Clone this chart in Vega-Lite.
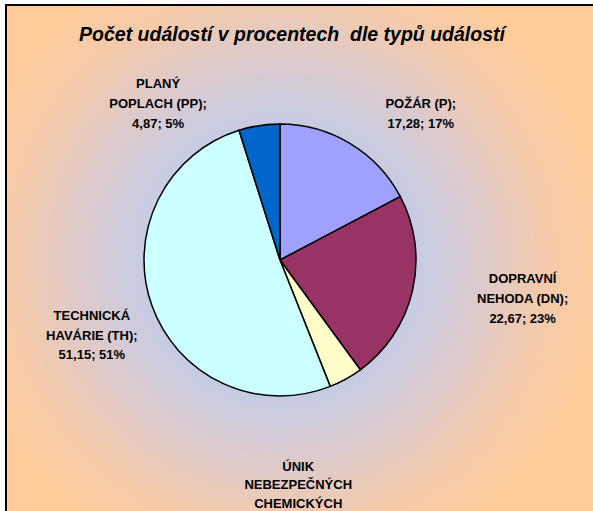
{
  "$schema": "https://vega.github.io/schema/vega-lite/v6.json",
  "autosize": {"type": "none"},
  "width": 588,
  "height": 508,
  "padding": {"left": 6, "top": 5, "right": 0, "bottom": 0},
  "background": "white",
  "view": {
    "fill": {"gradient": "radial", "x1": 0.466, "y1": 0.502, "r1": 0, "x2": 0.466, "y2": 0.502, "r2": 0.56,
      "stops": [
        {"offset": 0, "color": "#B2C8F2"},
        {"offset": 0.44, "color": "#C8CCE2"},
        {"offset": 0.62, "color": "#DECACB"},
        {"offset": 0.8, "color": "#F3CAAC"},
        {"offset": 1, "color": "#FFCC99"}
      ]},
    "stroke": "black",
    "strokeWidth": 2
  },
  "config": {
    "text": {"font": "Liberation Sans"}
  },
  "title": {
    "text": "Počet událostí v procentech\u00a0 dle typů událostí",
    "font": "Liberation Sans",
    "fontSize": 19.5,
    "fontWeight": "bold",
    "fontStyle": "italic",
    "color": "black",
    "anchor": "middle",
    "frame": "group",
    "offset": -40,
    "dx": -8
  },
  "data": {
    "values": [
      {"i": 1, "typ": "Požár (P)", "hodnota": 17.28, "label": "POŽÁR (P);\n17,28; 17%"},
      {"i": 2, "typ": "Dopravní nehoda (DN)", "hodnota": 22.67, "label": "DOPRAVNÍ\nNEHODA (DN);\n22,67; 23%"},
      {"i": 3, "typ": "Únik nebezpečných chemických látek", "hodnota": 4.03, "label": "ÚNIK\nNEBEZPEČNÝCH\nCHEMICKÝCH"},
      {"i": 4, "typ": "Technická havárie (TH)", "hodnota": 51.15, "label": "TECHNICKÁ\nHAVÁRIE (TH);\n51,15; 51%"},
      {"i": 5, "typ": "Planý poplach (PP)", "hodnota": 4.87, "label": "PLANÝ\nPOPLACH (PP);\n4,87; 5%"}
    ]
  },
  "encoding": {
    "theta": {"field": "hodnota", "type": "quantitative", "stack": true},
    "order": {"field": "i", "type": "quantitative"}
  },
  "layer": [
    {
      "mark": {"type": "arc", "outerRadius": 136, "stroke": "black", "strokeWidth": 1.5, "xOffset": -20, "yOffset": 1},
      "encoding": {
        "color": {
          "field": "typ", "type": "nominal", "legend": null,
          "scale": {
            "domain": ["Požár (P)", "Dopravní nehoda (DN)", "Únik nebezpečných chemických látek", "Technická havárie (TH)", "Planý poplach (PP)"],
            "range": ["#A0A0FF", "#993366", "#FFFFCC", "#CCFFFF", "#0066CC"]
          }
        }
      }
    },
    {
      "mark": {"type": "text", "radius": 170, "xOffset": -20, "yOffset": 1, "dx": 53, "dy": -10, "fontSize": 13, "fontWeight": "bold", "lineBreak": "\n", "lineHeight": 20, "align": "center", "baseline": "middle", "color": "black"},
      "encoding": {"text": {"condition": {"test": "datum.i == 1", "field": "label"}, "value": ""}}
    },
    {
      "mark": {"type": "text", "radius": 170, "xOffset": -20, "yOffset": 1, "dx": 77, "dy": -19, "fontSize": 13, "fontWeight": "bold", "lineBreak": "\n", "lineHeight": 20, "align": "center", "baseline": "middle", "color": "black"},
      "encoding": {"text": {"condition": {"test": "datum.i == 2", "field": "label"}, "value": ""}}
    },
    {
      "mark": {"type": "text", "radius": 170, "xOffset": -20, "yOffset": 1, "dx": -64, "dy": 58, "fontSize": 13, "fontWeight": "bold", "lineBreak": "\n", "lineHeight": 18.5, "align": "center", "baseline": "middle", "color": "black"},
      "encoding": {"text": {"condition": {"test": "datum.i == 3", "field": "label"}, "value": ""}}
    },
    {
      "mark": {"type": "text", "radius": 170, "xOffset": -20, "yOffset": 1, "dx": -28, "dy": -1, "fontSize": 13, "fontWeight": "bold", "lineBreak": "\n", "lineHeight": 19.5, "align": "center", "baseline": "middle", "color": "black"},
      "encoding": {"text": {"condition": {"test": "datum.i == 4", "field": "label"}, "value": ""}}
    },
    {
      "mark": {"type": "text", "radius": 170, "xOffset": -20, "yOffset": 1, "dx": -96, "dy": -8, "fontSize": 13, "fontWeight": "bold", "lineBreak": "\n", "lineHeight": 20, "align": "center", "baseline": "middle", "color": "black"},
      "encoding": {"text": {"condition": {"test": "datum.i == 5", "field": "label"}, "value": ""}}
    }
  ]
}
